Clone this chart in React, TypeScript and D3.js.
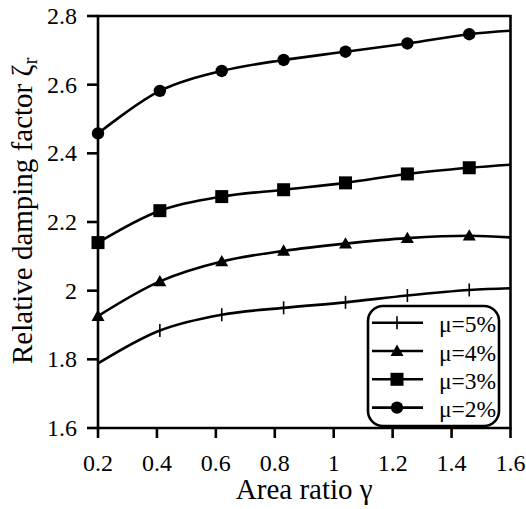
import React from "react";
import * as d3 from "d3";

const xMarkers = [0.2, 0.41, 0.62, 0.83, 1.04, 1.25, 1.46];
const xEnd = 1.6;
const mu2 = [2.458, 2.582, 2.64, 2.672, 2.696, 2.72, 2.747, 2.757];
const mu3 = [2.14, 2.233, 2.274, 2.294, 2.314, 2.34, 2.358, 2.367];
const mu4 = [1.926, 2.027, 2.085, 2.116, 2.137, 2.153, 2.16, 2.155];
const mu5 = [1.788, 1.884, 1.93, 1.95, 1.966, 1.986, 2.002, 2.007];
const xTicks = [0.2, 0.4, 0.6, 0.8, 1, 1.2, 1.4, 1.6];
const yTicks = [1.6, 1.8, 2, 2.2, 2.4, 2.6, 2.8];
const legendLabels = ["μ=5%", "μ=4%", "μ=3%", "μ=2%"];

const W = 526;
const H = 509;
const L = 98, R = 510.5, T = 16, B = 428;
const FONT = "Liberation Serif, Tinos, Times New Roman, serif";

type Shape = "plus" | "triangle" | "square" | "circle";

function Marker({ x, y, shape }: { x: number; y: number; shape: Shape }) {
  if (shape === "circle") return <circle cx={x} cy={y} r={6.2} fill="#000" />;
  if (shape === "square") return <rect x={x - 6.5} y={y - 6.5} width={13} height={13} fill="#000" />;
  if (shape === "triangle") {
    const s = 6.5;
    return <path d={`M${x},${y - s} L${x + s},${y + s * 0.75} L${x - s},${y + s * 0.75} Z`} fill="#000" />;
  }
  return (
    <path d={`M${x},${y - 6.5} V${y + 6.5}`} stroke="#000" strokeWidth={1.6} />
  );
}

export default function App() {
  const xs = d3.scaleLinear().domain([0.2, 1.6]).range([L, R]);
  const ys = d3.scaleLinear().domain([1.6, 2.8]).range([B, T]);
  const xAll = [...xMarkers, xEnd];
  const series: { vals: number[]; shape: Shape }[] = [
    { vals: mu5, shape: "plus" },
    { vals: mu4, shape: "triangle" },
    { vals: mu3, shape: "square" },
    { vals: mu2, shape: "circle" },
  ];
  const line = d3
    .line<number>()
    .x((_, i) => xs(xAll[i]))
    .y((d) => ys(d))
    .curve(d3.curveCatmullRom.alpha(0.5));

  const legX = 368, legY = 306, legW = 131, legH = 120;
  const rowY = (i: number) => 322.7 + i * 28.3;
  const ts = { fontFamily: FONT };

  return (
    <svg
      width={W}
      height={H}
      style={{ position: "absolute", left: 0, top: 0, background: "#fff", fontFamily: FONT }}
    >
      <rect x={0} y={0} width={W} height={H} fill="#fff" />
      {series.map((s, si) => (
        <g key={si}>
          <path d={line(s.vals) || ""} fill="none" stroke="#000" strokeWidth={2.6} />
          {xMarkers.map((xv, i) => (
            <Marker key={i} x={xs(xv)} y={ys(s.vals[i])} shape={s.shape} />
          ))}
        </g>
      ))}
      {/* frame */}
      <path d={`M${L},${T} H${R} V${B} H${L} Z`} fill="none" stroke="#000" strokeWidth={2.6} />
      {yTicks.map((t) => (
        <g key={t}>
          <line x1={L - 11} x2={L} y1={ys(t)} y2={ys(t)} stroke="#000" strokeWidth={2.6} />
          <text x={77} y={ys(t)} dy="0.34em" textAnchor="end" fontSize={24} style={ts}>
            {d3.format("")(t)}
          </text>
        </g>
      ))}
      {xTicks.map((t) => (
        <g key={t}>
          <line x1={xs(t)} x2={xs(t)} y1={B} y2={B + 10} stroke="#000" strokeWidth={2.6} />
          <text x={xs(t)} y={470.5} textAnchor="middle" fontSize={24} style={ts}>
            {d3.format("")(t)}
          </text>
        </g>
      ))}
      <text x={(L + R) / 2} y={499} textAnchor="middle" fontSize={29} style={ts}>
        Area ratio γ
      </text>
      <text transform={`translate(32,364) rotate(-90)`} textAnchor="start" fontSize={29} style={ts}>
        Relative damping factor ζ
        <tspan dy={5} fontSize={21}>r</tspan>
      </text>
      {/* legend */}
      <rect x={legX} y={legY} width={legW} height={legH} rx={15} ry={15} fill="#fff" stroke="#000" strokeWidth={2.6} />
      {series.map((s, i) => (
        <g key={i}>
          <line x1={372} x2={423} y1={rowY(i)} y2={rowY(i)} stroke="#000" strokeWidth={2.6} />
          <Marker x={397} y={rowY(i)} shape={s.shape} />
          <text x={439} y={rowY(i) + 9.5} fontSize={23.5} style={ts}>
            {legendLabels[i]}
          </text>
        </g>
      ))}
    </svg>
  );
}
